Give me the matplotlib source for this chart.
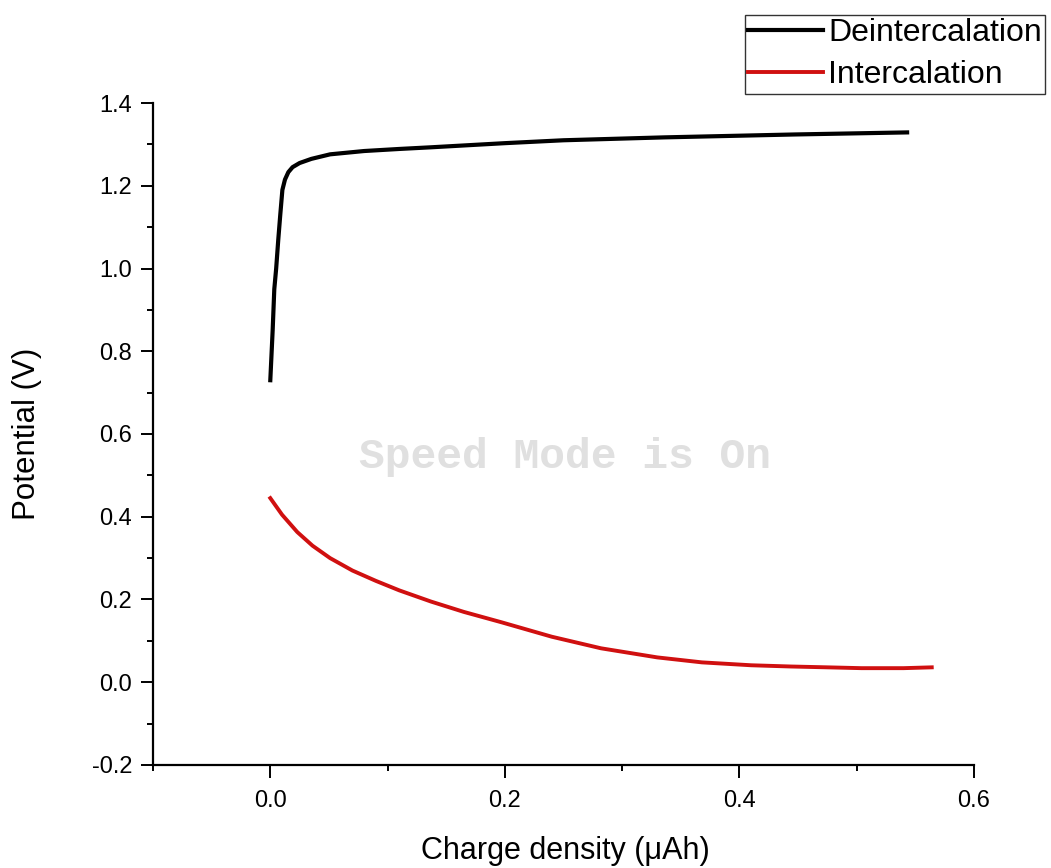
import matplotlib
matplotlib.use("Agg")
import matplotlib.pyplot as plt
from matplotlib.ticker import MultipleLocator

plt.rcParams['font.family'] = ['Liberation Sans', 'DejaVu Sans']
plt.rcParams['axes.unicode_minus'] = False

# deintercalation (black)
deint_x = [0.0, 0.002, 0.0034, 0.005, 0.0068, 0.0085, 0.0103, 0.0125, 0.0154, 0.019,
           0.025, 0.035, 0.051, 0.08, 0.11, 0.137, 0.2, 0.25, 0.336, 0.447, 0.543]
deint_y = [0.73, 0.85, 0.95, 1.0, 1.07, 1.13, 1.19, 1.215, 1.233, 1.245,
           1.255, 1.265, 1.276, 1.284, 1.289, 1.293, 1.303, 1.31, 1.317, 1.324, 1.329]

# intercalation (red)
int_x = [0.0, 0.01, 0.023, 0.036, 0.051, 0.07, 0.09, 0.11, 0.137, 0.165, 0.197, 0.24,
         0.282, 0.33, 0.368, 0.41, 0.444, 0.475, 0.504, 0.54, 0.564]
int_y = [0.445, 0.405, 0.363, 0.33, 0.300, 0.27, 0.245, 0.222, 0.195, 0.17, 0.145, 0.11,
         0.082, 0.06, 0.048, 0.041, 0.038, 0.036, 0.034, 0.034, 0.036]

fig = plt.figure(figsize=(10.51, 8.68), dpi=100)
ax = fig.add_axes([0.1456, 0.1187, 0.7811, 0.7626])

ax.plot(deint_x, deint_y, color='black', linewidth=3, label='Deintercalation')
ax.plot(int_x, int_y, color='#d01010', linewidth=2.8, label='Intercalation')

ax.set_xlim(-0.1, 0.6)
ax.set_ylim(-0.2, 1.4)
ax.xaxis.set_major_locator(MultipleLocator(0.2))
ax.xaxis.set_minor_locator(MultipleLocator(0.1))
ax.yaxis.set_major_locator(MultipleLocator(0.2))
ax.yaxis.set_minor_locator(MultipleLocator(0.1))
ax.xaxis.set_major_formatter(plt.FormatStrFormatter('%.1f'))
ax.yaxis.set_major_formatter(plt.FormatStrFormatter('%.1f'))

for s in ['top', 'right']:
    ax.spines[s].set_visible(False)
for s in ['left', 'bottom']:
    ax.spines[s].set_linewidth(1.6)

ax.tick_params(which='major', direction='out', length=9, width=1.4, labelsize=17)
ax.tick_params(axis='x', which='major', pad=9)
ax.tick_params(axis='y', which='major', pad=6)
ax.tick_params(which='minor', direction='out', length=4.5, width=1.4)

ax.set_xlabel('Charge density (μAh)', fontsize=22, va='center')
ax.xaxis.set_label_coords(0.502, -0.1295)
ax.set_ylabel('Potential (V)', fontsize=22.5, va='center')
ax.yaxis.set_label_coords(-0.1535, 0.5)

fig.text(0.5376, 0.4735, 'Speed Mode is On', family='Liberation Mono', fontweight='bold',
         fontsize=31, color='#e0e0e0', ha='center', va='center')

leg = fig.legend(loc='upper right', bbox_to_anchor=(0.9943, 0.9827), fontsize=23,
                 frameon=True, fancybox=False, handlelength=2.35, handletextpad=0.15,
                 borderpad=0.1, labelspacing=0.38, borderaxespad=0)
leg.get_frame().set_edgecolor('black')
leg.get_frame().set_linewidth(1.0)

fig.savefig('out.png', dpi=100)
